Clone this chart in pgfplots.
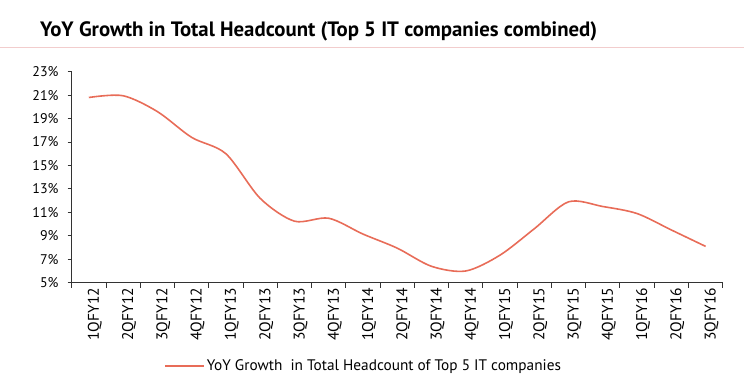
\documentclass[border=0pt]{standalone}
\usepackage{pgfplots}
\pgfplotsset{compat=1.18}
\usepackage{fontspec}
\setmainfont{PT Sans}
\definecolor{linecol}{RGB}{232,108,88}
\definecolor{rulecol}{RGB}{242,205,205}
\begin{document}
\begin{tikzpicture}
\path[use as bounding box] (0pt,0pt) rectangle (744pt,384pt);
\draw[rulecol, line width=1pt] (0pt,337pt) -- (744pt,337pt);
\node[anchor=base west, font=\fontsize{20.8}{23}\selectfont\bfseries, inner sep=0pt] at (40pt,348pt) {YoY Growth in Total Headcount (Top 5 IT companies combined)};
\begin{axis}[
  at={(71.7pt,101.3pt)}, anchor=south west, scale only axis,
  width=651pt, height=211pt,
  xmin=0.5, xmax=19.5, ymin=5, ymax=23,
  axis x line*=bottom, axis y line*=left,
  axis line style={black!80, line width=0.9pt},
  ytick={5,7,...,23},
  yticklabel={\pgfmathprintnumber[assume math mode=true]{\tick}\%},
  xtick={1,...,19},
  xticklabels={1QFY12,2QFY12,3QFY12,4QFY12,1QFY13,2QFY13,3QFY13,4QFY13,1QFY14,2QFY14,3QFY14,4QFY14,1QFY15,2QFY15,3QFY15,4QFY15,1QFY16,2QFY16,3QFY16},
  minor xtick={0.5,1.5,...,19.5},
  tick align=outside,
  major tick length=4pt, minor tick length=5pt,
  x tick style={draw=none},
  minor x tick style={draw=black!80, line width=0.9pt},
  y tick style={draw=black!80, line width=0.9pt},
  xticklabel style={rotate=90, anchor=east, font=\fontsize{15.5}{17}\selectfont, inner sep=1pt, yshift=-6pt},
  yticklabel style={font=\fontsize{14}{16}\selectfont, inner sep=2pt, xshift=-7pt},
  legend style={draw=none, at={(0.142,-0.396)}, anchor=west, font=\fontsize{15.3}{17}\selectfont, inner sep=0pt},
  legend image code/.code={\draw[#1] (0pt,0pt) -- (39pt,0pt);},
  legend cell align=left,
  clip=false,
]
\addplot[linecol, line width=1.6pt, smooth] coordinates {
(1,20.8) (2,20.95) (3,19.6) (4,17.4) (5,16.0) (6,12.2) (7,10.25) (8,10.5) (9,9.15) (10,7.95)
(11,6.4) (12,6.0) (13,7.35) (14,9.6) (15,11.9) (16,11.5) (17,10.9) (18,9.5) (19,8.1)
};
\addlegendentry{YoY Growth\ \ in Total Headcount of Top 5 IT companies}
\end{axis}
\end{tikzpicture}
\end{document}
